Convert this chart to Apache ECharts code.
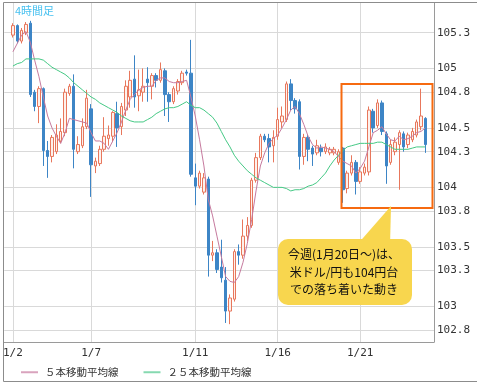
<!DOCTYPE html>
<html><head><meta charset="utf-8">
<script src="https://cdn.jsdelivr.net/npm/echarts@6/dist/echarts.min.js"></script>
<style>html,body{margin:0;padding:0;background:#fff}#c{width:477px;height:384px}</style>
</head><body><div id="c"></div>
<script>
// x-axis date labels (candle index -> label)
const labelIdx = [0, 18, 42, 61, 80];
const labelText = ['1/2', '1/7', '1/11', '1/16', '1/21'];
// y-axis tick values
const yTicks = [102.8, 103, 103.3, 103.5, 103.8, 104, 104.3, 104.5, 104.8, 105, 105.3];

// 4-hour candles (USD/JPY)
const opens = [105.28,105.36,105.23,105.30,105.38,104.80,104.68,104.83,104.31,104.26,
 104.30,104.39,104.46,104.79,104.85,104.30,104.35,104.51,104.66,104.18,
 104.20,104.32,104.41,104.43,104.62,104.51,104.65,104.76,104.91,104.77,
 104.80,104.91,104.85,104.94,104.90,104.98,104.78,104.72,104.81,104.88,
 104.97,104.96,104.08,104.01,103.96,104.07,103.43,103.45,103.33,103.22,
 102.96,103.06,103.46,103.43,103.59,103.68,104.06,104.25,104.43,104.41,
 104.35,104.43,104.55,104.57,104.87,104.73,104.72,104.26,104.42,104.33,
 104.29,104.33,104.30,104.29,104.29,104.21,104.33,103.99,104.12,104.21,
 104.05,104.12,104.13,104.64,104.52,104.71,104.45,104.21,104.30,104.36,
 104.45,104.36,104.40,104.44,104.51,104.58];
const closes = [105.36,105.23,105.32,105.37,104.78,104.68,104.83,104.31,104.26,104.42,
 104.44,104.47,104.80,104.85,104.32,104.36,104.51,104.75,104.19,104.22,
 104.32,104.43,104.44,104.63,104.50,104.68,104.85,104.90,104.76,104.82,
 104.85,104.88,104.94,104.90,104.99,104.78,104.72,104.83,104.89,104.96,
 104.96,104.11,104.01,104.12,104.08,103.43,103.45,103.31,103.24,102.96,
 103.07,103.46,103.43,103.59,103.68,104.06,104.25,104.43,104.40,104.34,
 104.42,104.57,104.60,104.87,104.73,104.66,104.26,104.42,104.32,104.28,
 104.35,104.30,104.34,104.32,104.32,104.30,103.98,104.12,104.21,104.05,
 104.13,104.17,104.65,104.50,104.71,104.47,104.18,104.36,104.38,104.46,
 104.34,104.44,104.47,104.55,104.60,104.36];
const lows = [105.26,105.21,105.21,105.28,104.76,104.64,104.54,104.18,104.08,104.21,
 104.28,104.37,104.43,104.77,104.16,104.28,104.33,104.49,103.92,104.12,
 104.18,104.30,104.35,104.38,104.34,104.44,104.60,104.67,104.67,104.64,
 104.72,104.72,104.74,104.84,104.88,104.60,104.55,104.70,104.78,104.86,
 104.94,104.09,103.85,103.99,103.94,103.25,103.38,103.28,103.20,102.86,
 102.85,103.04,103.35,103.40,103.55,103.66,104.04,104.23,104.38,104.21,
 104.21,104.40,104.50,104.55,104.65,104.62,104.15,104.19,104.22,104.18,
 104.27,104.26,104.28,104.27,104.27,104.19,103.87,103.95,104.10,103.94,
 104.03,104.10,104.10,104.46,104.50,104.44,104.03,104.19,104.27,103.98,
 104.30,104.33,104.38,104.42,104.48,104.29];
const highs = [105.38,105.37,105.34,105.39,105.40,104.82,104.85,104.84,104.39,104.44,
 104.53,104.58,104.83,104.87,104.95,104.43,104.58,104.82,104.70,104.25,
 104.35,104.59,104.52,104.64,104.72,104.71,104.90,104.98,105.11,104.99,
 105.00,105.01,104.96,104.96,105.05,105.00,104.80,104.85,104.91,104.98,
 104.99,105.24,104.20,104.14,104.12,104.09,103.55,103.48,103.56,103.33,
 103.10,103.48,103.52,103.73,103.75,104.08,104.29,104.45,104.45,104.45,
 104.48,104.67,104.68,104.89,104.91,104.75,104.74,104.45,104.44,104.35,
 104.40,104.36,104.37,104.34,104.34,104.32,104.34,104.14,104.27,104.23,
 104.17,104.20,104.68,104.66,104.74,104.73,104.47,104.40,104.42,104.48,
 104.47,104.46,104.50,104.57,104.83,104.59];
// moving averages
const ma5 = [105.14,105.21,105.28,105.31,105.22,105.07,104.93,104.76,104.60,104.50,
 104.43,104.37,104.46,104.58,104.57,104.56,104.55,104.54,104.46,104.39,
 104.39,104.37,104.32,104.39,104.46,104.55,104.65,104.74,104.78,104.82,
 104.84,104.85,104.85,104.90,104.92,104.92,104.89,104.88,104.88,104.89,
 104.90,104.76,104.60,104.40,104.18,103.90,103.76,103.59,103.42,103.25,
 103.21,103.20,103.25,103.37,103.53,103.73,103.97,104.18,104.29,104.37,
 104.41,104.44,104.50,104.57,104.65,104.68,104.62,104.53,104.43,104.36,
 104.33,104.34,104.33,104.32,104.30,104.26,104.22,104.20,104.18,104.12,
 104.16,104.22,104.34,104.46,104.48,104.51,104.45,104.40,104.39,104.43,
 104.40,104.41,104.43,104.46,104.47,104.50];
const ma25 = [105.02,105.04,105.05,105.08,105.08,105.08,105.08,105.07,105.04,105.01,
 104.99,104.97,104.95,104.92,104.88,104.85,104.82,104.79,104.76,104.74,
 104.71,104.69,104.67,104.65,104.63,104.60,104.58,104.56,104.55,104.55,
 104.55,104.57,104.59,104.62,104.64,104.66,104.67,104.67,104.68,104.70,
 104.72,104.69,104.67,104.67,104.65,104.62,104.59,104.54,104.47,104.40,
 104.34,104.27,104.22,104.18,104.14,104.11,104.08,104.06,104.04,104.02,
 104.00,104.00,104.00,103.99,103.97,103.98,103.98,103.99,104.01,104.02,
 104.04,104.08,104.12,104.18,104.23,104.27,104.31,104.34,104.35,104.36,
 104.37,104.37,104.37,104.37,104.38,104.38,104.36,104.34,104.32,104.32,
 104.32,104.32,104.33,104.34,104.34,104.34];

const seriesNames = ['５本移動平均線', '２５本移動平均線'];
const calloutLines = ['今週(1月20日～)は、', '米ドル/円も104円台', 'での落ち着いた動き'];

const PAD = 2, NCAT = 100;
const cats = Array.from({length: NCAT}, (_, j) => String(j));
const candleData = opens.map((o, i) => [i + PAD, o, closes[i], lows[i], highs[i]]);
const isLabel = idx => labelIdx.indexOf(idx - PAD) >= 0;

const chart = echarts.init(document.getElementById('c'), null, {renderer: 'canvas'});
const mono = 'DejaVu Sans Mono';
const jp = '"Noto Sans CJK JP", sans-serif';

chart.setOption({
  animation: false,
  backgroundColor: '#fff',
  grid: {left: 4, right: 43, top: 3, bottom: 42, containLabel: false},
  xAxis: {
    type: 'category', data: cats, boundaryGap: false,
    axisLine: {show: true, onZero: false, lineStyle: {color: '#9a9a9a'}},
    axisTick: {show: false},
    axisLabel: {
      interval: (idx) => isLabel(idx),
      formatter: (v) => { const k = labelIdx.indexOf(Number(v) - PAD); return k >= 0 ? labelText[k] : ''; },
      color: '#333', fontFamily: mono, fontSize: 11, margin: 6
    },
    splitLine: {show: true, interval: (idx) => isLabel(idx), lineStyle: {color: '#d9d9d9'}}
  },
  yAxis: {
    type: 'value', position: 'right', min: 102.7, max: 105.55, scale: true,
    axisLine: {show: true, lineStyle: {color: '#9a9a9a'}},
    axisTick: {show: false, customValues: yTicks},
    axisLabel: {customValues: yTicks, formatter: v => String(+(+v).toFixed(1)),
      color: '#333', fontFamily: mono, fontSize: 11, margin: 3},
    splitLine: {show: true, lineStyle: {color: '#d9d9d9'}}
  },
  legend: {
    left: 16, top: 362, icon: 'rect', itemWidth: 17, itemHeight: 2, itemGap: 25,
    textStyle: {fontFamily: jp, fontSize: 10.5, color: '#333', padding: [0, 0, 0, 2]},
    data: seriesNames
  },
  series: [
    {
      type: 'candlestick', name: 'USDJPY', data: candleData,
      encode: {x: 0, y: [1, 2, 3, 4]}, barWidth: 3,
      itemStyle: {color: '#fdf1ec', color0: '#3d85c6', borderColor: '#e8775c', borderColor0: '#3d85c6', borderWidth: 1}
    },
    {
      type: 'line', name: seriesNames[0], data: ma5.map((v, i) => [i + PAD, v]),
      showSymbol: false, symbol: 'none', lineStyle: {color: '#c67a9e', width: 1}, itemStyle: {color: '#d9a3bd'}, z: 3
    },
    {
      type: 'line', name: seriesNames[1], data: ma25.map((v, i) => [i + PAD, v]),
      showSymbol: false, symbol: 'none', lineStyle: {color: '#45c985', width: 1}, itemStyle: {color: '#86d9b0'}, z: 3
    }
  ],
  graphic: [
    {type: 'rect', shape: {x: 3.5, y: 2.5, width: 480, height: 379}, style: {fill: null, stroke: '#8c8c8c', lineWidth: 1}, z: 10, silent: true},
    {type: 'text', x: 15, y: 5, style: {text: '4時間足', fill: '#45c0f0', font: '11px "Noto Sans CJK JP"'}, z: 10},
    {type: 'rect', shape: {x: 341.5, y: 84, width: 91, height: 124}, style: {fill: null, stroke: '#f66a10', lineWidth: 2}, z: 10},
    {type: 'polygon', shape: {points: [[356, 246], [391, 206], [390, 246]]}, style: {fill: '#f8d64e'}, z: 10},
    {type: 'rect', shape: {x: 278, y: 239, width: 134, height: 66, r: 10}, style: {fill: '#f8d64e'}, z: 10},
    {type: 'text', x: 344, y: 254.5, style: {text: calloutLines[0], fill: '#111', font: '12px "Noto Sans CJK JP"', align: 'center', verticalAlign: 'middle'}, z: 11},
    {type: 'text', x: 344, y: 272, style: {text: calloutLines[1], fill: '#111', font: '12px "Noto Sans CJK JP"', align: 'center', verticalAlign: 'middle'}, z: 11},
    {type: 'text', x: 344, y: 289.5, style: {text: calloutLines[2], fill: '#111', font: '12px "Noto Sans CJK JP"', align: 'center', verticalAlign: 'middle'}, z: 11}
  ]
});
</script></body></html>
